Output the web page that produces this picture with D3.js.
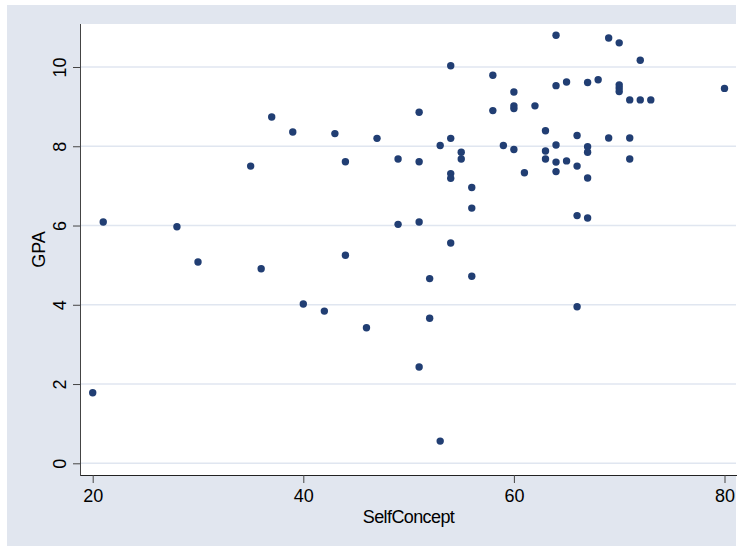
<!DOCTYPE html>
<html>
<head>
<meta charset="utf-8">
<script src="https://cdn.jsdelivr.net/npm/d3@7"></script>
<style>
  html, body { margin: 0; padding: 0; background: #ffffff; }
  svg { display: block; }
  text { font-family: "Liberation Sans", Arial, sans-serif; fill: #000; }
</style>
</head>
<body>
<svg id="chart" width="743" height="546"></svg>
<script>
// Self-concept score and GPA for each student
const selfConcept = [
  20, 21, 28, 30, 35, 36, 37, 39, 40, 42, 43,
  44, 44, 46, 47, 49, 49,
  51, 51, 51, 51, 52, 52, 53, 53,
  54, 54, 54, 54, 54, 55, 55, 56, 56, 56,
  58, 58, 59, 60, 60, 60, 60, 61, 62,
  63, 63, 63, 64, 64, 64, 64, 64, 65, 65,
  66, 66, 66, 66, 67, 67, 67, 67, 67, 68,
  69, 69, 70, 70, 70, 70, 71, 71, 71, 72, 72, 73, 80
];
const gpa = [
  1.78, 6.09, 5.97, 5.08, 7.50, 4.91, 8.74, 8.36, 4.02, 3.84, 8.32,
  7.61, 5.25, 3.42, 8.20, 7.68, 6.03,
  8.86, 7.61, 6.09, 2.43, 4.66, 3.66, 8.02, 0.56,
  10.03, 8.20, 7.31, 7.19, 5.56, 7.85, 7.68, 6.96, 6.44, 4.72,
  9.79, 8.90, 8.02, 9.37, 9.02, 8.95, 7.92, 7.33, 9.02,
  8.39, 7.88, 7.68, 10.80, 9.53, 8.03, 7.60, 7.36, 9.62, 7.63,
  8.27, 7.50, 6.25, 3.95, 9.61, 7.99, 7.85, 7.20, 6.19, 9.68,
  10.73, 8.21, 10.61, 9.55, 9.47, 9.38, 9.17, 8.21, 7.68, 10.17, 9.17, 9.17, 9.46
];
const xTicks = [20, 40, 60, 80];
const yTicks = [0, 2, 4, 6, 8, 10];
const xTitle = "SelfConcept";
const yTitle = "GPA";

const svg = d3.select("#chart");

// graph region and plot region
const outer = { left: 7, top: 5, right: 736, bottom: 546 };
const plot = { left: 81, top: 24, right: 736, bottom: 475 };

const x = d3.scaleLinear().domain([20, 80]).range([92.7, 724.5]);
const y = d3.scaleLinear().domain([0, 10]).range([463.3, 67]);

svg.append("rect")
  .attr("x", outer.left).attr("y", outer.top)
  .attr("width", outer.right - outer.left)
  .attr("height", outer.bottom - outer.top)
  .attr("fill", "#E1E6EF");

svg.append("rect")
  .attr("x", plot.left).attr("y", plot.top)
  .attr("width", plot.right - plot.left)
  .attr("height", plot.bottom - plot.top)
  .attr("fill", "#ffffff");

// horizontal grid lines
svg.append("g")
  .selectAll("line")
  .data(yTicks)
  .join("line")
  .attr("x1", plot.left).attr("x2", plot.right)
  .attr("y1", d => y(d)).attr("y2", d => y(d))
  .attr("stroke", "#E0E6F0")
  .attr("stroke-width", 1.6);

// x axis
const xAxis = svg.append("g")
  .attr("transform", `translate(0,${plot.bottom})`)
  .call(d3.axisBottom(x).tickValues(xTicks).tickSize(8).tickPadding(6).tickFormat(d3.format("d")));
xAxis.select(".domain")
  .attr("d", `M${plot.left},0.5H${plot.right + 1}`)
  .attr("stroke", "#222");
xAxis.selectAll(".tick line").attr("stroke", "#444");
xAxis.selectAll(".tick text")
  .style("font-size", "18px")
  .style("font-family", "'Liberation Sans', Arial, sans-serif")
  .attr("fill", "#000");

// y axis with vertical tick labels
const yAxis = svg.append("g")
  .attr("transform", `translate(${plot.left},0)`)
  .call(d3.axisLeft(y).tickValues(yTicks).tickSize(8).tickFormat(d3.format("d")));
yAxis.select(".domain")
  .attr("d", `M-0.5,${plot.top}V${plot.bottom + 1}`)
  .attr("stroke", "#444");
yAxis.selectAll(".tick line").attr("stroke", "#444");
yAxis.selectAll(".tick text")
  .attr("x", null).attr("dy", null)
  .attr("text-anchor", "middle")
  .attr("transform", "translate(-15,0) rotate(-90)")
  .style("font-size", "18px")
  .style("font-family", "'Liberation Sans', Arial, sans-serif")
  .attr("fill", "#000");

// axis titles
svg.append("text")
  .attr("x", (plot.left + plot.right) / 2)
  .attr("y", 523)
  .attr("text-anchor", "middle")
  .style("font-size", "18px")
  .style("letter-spacing", "-0.6px")
  .text(xTitle);

svg.append("text")
  .attr("transform", `translate(45,${(plot.top + plot.bottom) / 2}) rotate(-90)`)
  .attr("text-anchor", "middle")
  .style("font-size", "18px")
  .text(yTitle);

// points
svg.append("g")
  .selectAll("circle")
  .data(d3.range(selfConcept.length))
  .join("circle")
  .attr("cx", i => x(selfConcept[i]))
  .attr("cy", i => y(gpa[i]))
  .attr("r", 3.7)
  .attr("fill", "#213E73");
</script>
</body>
</html>
